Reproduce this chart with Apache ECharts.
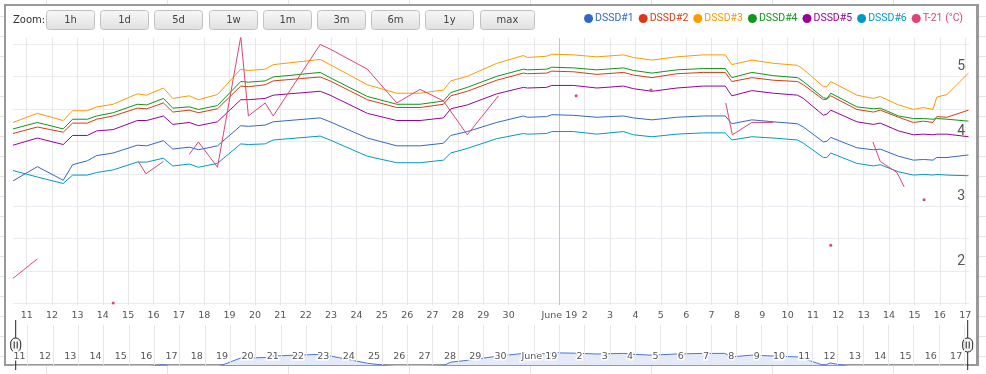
<!DOCTYPE html>
<html>
<head>
<meta charset="utf-8">
<script src="https://cdn.jsdelivr.net/npm/echarts@6/dist/echarts.min.js"></script>
<style>
html, body { margin: 0; padding: 0; }
body {
    width: 986px;
    height: 374px;
    overflow: hidden;
    position: relative;
    background-color: #fff;
    background-image: linear-gradient(to right, #e4e4e4 1px, transparent 1px), linear-gradient(to bottom, #e4e4e4 1px, transparent 1px);
    background-size: 121px 100%, 100% 20px;
    background-position: 46px 0, 0 16px;
}
#frame {
    position: absolute;
    left: 4px;
    top: 4px;
    width: 970px;
    height: 358px;
    border: 2px solid #999;
    border-right-width: 3px;
    background: #fff;
}
#chart { position: absolute; left: 0; top: 0; width: 986px; height: 374px; }
</style>
</head>
<body>
<div id="frame"></div>
<div id="chart"></div>
<script>
// x values are day numbers counted from 1 May 2019 (32 = 1 June)
const days = [10.46, 11.42, 12.44, 12.81, 13.39, 13.76, 14.41, 15.36, 15.73, 16.39,
    16.76, 17.41, 17.77, 18.52, 19.44, 19.74, 20.40, 20.72, 22.57, 22.96,
    24.43, 25.59, 26.51, 27.43, 27.72, 28.37, 29.53, 30.58, 30.74, 31.50,
    31.70, 32.55, 33.48, 34.53, 34.92, 35.65, 36.63, 37.68, 38.54, 38.80,
    39.59, 40.44, 41.39, 41.62, 42.41, 42.55, 42.70, 43.73, 44.38, 44.65,
    45.37, 45.96, 46.36, 46.73, 46.88, 47.28, 48.13];

const dssd1 = [3.39, 3.61, 3.40, 3.64, 3.70, 3.78, 3.82, 3.94, 3.93, 4.01,
    3.88, 3.91, 3.87, 3.93, 4.24, 4.23, 4.25, 4.30, 4.36, 4.30,
    4.05, 3.93, 3.93, 3.97, 4.09, 4.15, 4.29, 4.39, 4.37, 4.38,
    4.41, 4.40, 4.37, 4.39, 4.36, 4.33, 4.37, 4.39, 4.39, 4.27,
    4.33, 4.30, 4.27, 4.22, 3.99, 4.00, 4.06, 3.90, 3.87, 3.88,
    3.77, 3.71, 3.72, 3.71, 3.75, 3.75, 3.79];
const dssd2 = [4.12, 4.22, 4.14, 4.28, 4.28, 4.34, 4.39, 4.51, 4.50, 4.59,
    4.45, 4.48, 4.44, 4.50, 4.85, 4.84, 4.87, 4.93, 4.99, 4.93,
    4.64, 4.52, 4.52, 4.57, 4.70, 4.77, 4.94, 5.05, 5.04, 5.05,
    5.08, 5.07, 5.03, 5.06, 5.02, 4.98, 5.04, 5.06, 5.06, 4.92,
    4.98, 4.94, 4.92, 4.87, 4.64, 4.65, 4.70, 4.49, 4.45, 4.48,
    4.37, 4.29, 4.31, 4.29, 4.38, 4.37, 4.48];
const dssd3 = [4.29, 4.43, 4.32, 4.47, 4.47, 4.53, 4.57, 4.73, 4.71, 4.82,
    4.66, 4.70, 4.64, 4.72, 5.11, 5.09, 5.11, 5.18, 5.26, 5.18,
    4.87, 4.74, 4.74, 4.79, 4.93, 5.00, 5.20, 5.32, 5.29, 5.31,
    5.34, 5.33, 5.30, 5.33, 5.29, 5.25, 5.30, 5.33, 5.33, 5.18,
    5.25, 5.20, 5.17, 5.11, 4.84, 4.84, 4.92, 4.71, 4.66, 4.69,
    4.56, 4.49, 4.52, 4.49, 4.68, 4.72, 5.05];
const dssd4 = [4.19, 4.29, 4.19, 4.34, 4.34, 4.39, 4.44, 4.57, 4.56, 4.66,
    4.51, 4.53, 4.49, 4.55, 4.92, 4.91, 4.93, 4.99, 5.06, 4.98,
    4.69, 4.57, 4.57, 4.62, 4.75, 4.83, 5.00, 5.11, 5.10, 5.11,
    5.14, 5.13, 5.10, 5.13, 5.09, 5.05, 5.10, 5.12, 5.12, 4.98,
    5.06, 5.01, 4.98, 4.92, 4.67, 4.66, 4.74, 4.53, 4.50, 4.51,
    4.39, 4.35, 4.35, 4.34, 4.35, 4.34, 4.31];
const dssd5 = [3.94, 4.05, 3.95, 4.09, 4.09, 4.16, 4.18, 4.32, 4.32, 4.39,
    4.26, 4.29, 4.24, 4.30, 4.64, 4.64, 4.66, 4.71, 4.77, 4.71,
    4.43, 4.32, 4.32, 4.36, 4.50, 4.56, 4.73, 4.83, 4.82, 4.83,
    4.86, 4.86, 4.82, 4.85, 4.81, 4.77, 4.82, 4.85, 4.85, 4.70,
    4.78, 4.74, 4.71, 4.66, 4.40, 4.42, 4.48, 4.30, 4.26, 4.28,
    4.16, 4.10, 4.11, 4.10, 4.11, 4.11, 4.07];
const dssd6 = [3.55, 3.45, 3.35, 3.48, 3.48, 3.52, 3.56, 3.68, 3.68, 3.74,
    3.62, 3.65, 3.60, 3.66, 3.96, 3.95, 3.96, 4.02, 4.08, 4.02,
    3.77, 3.67, 3.67, 3.71, 3.82, 3.89, 4.04, 4.12, 4.11, 4.12,
    4.15, 4.15, 4.11, 4.15, 4.10, 4.07, 4.11, 4.13, 4.13, 4.02,
    4.07, 4.05, 4.02, 3.97, 3.75, 3.75, 3.82, 3.66, 3.62, 3.64,
    3.53, 3.48, 3.49, 3.48, 3.49, 3.48, 3.47];

// T-21 has gaps (null) and a few lone readings
const t21 = [[10.46, 1.89], [11.42, 2.19], [12.9, null], [14.41, 1.51], [15.0, null],
    [15.40, 3.69], [15.70, 3.50], [16.39, 3.69], [16.9, null],
    [17.41, 3.80], [17.77, 3.99], [18.52, 3.60], [19.44, 5.61], [19.74, 4.39],
    [20.40, 4.59], [20.72, 4.39], [22.57, 5.49], [22.96, 5.42], [24.43, 5.11],
    [25.59, 4.59], [26.51, 4.80], [27.43, 4.62], [28.37, 4.10], [29.60, 4.70],
    [31.0, null], [32.66, 4.70], [34.0, null], [35.61, 4.79], [37.0, null],
    [38.56, 4.59], [38.82, 4.10], [39.59, 4.29], [40.44, 4.29], [41.5, null],
    [42.70, 2.40], [43.5, null], [44.36, 3.99], [44.65, 3.69], [45.31, 3.52],
    [45.59, 3.30], [46.0, null], [46.38, 3.10], [47.0, null]];

const seriesNames = ['DSSD#1', 'DSSD#2', 'DSSD#3', 'DSSD#4', 'DSSD#5', 'DSSD#6', 'T-21 (°C)'];
const seriesColors = ['#3366cc', '#dc3912', '#ff9900', '#109618', '#990099', '#0099c6', '#dd4477'];

// one grid line per day, labels skip 31 May (hidden by the "June 19" label)
const dayTicks = [11, 12, 13, 14, 15, 16, 17, 18, 19, 20, 21, 22, 23, 24, 25, 26, 27, 28, 29, 30, 31,
    32, 33, 34, 35, 36, 37, 38, 39, 40, 41, 42, 43, 44, 45, 46, 47, 48];
const dayLabels = [11, 12, 13, 14, 15, 16, 17, 18, 19, 20, 21, 22, 23, 24, 25, 26, 27, 28, 29, 30,
    32, 33, 34, 35, 36, 37, 38, 39, 40, 41, 42, 43, 44, 45, 46, 47, 48];
const monthTicks = [32];
const valueLabels = [2, 3, 4, 5];
const valueGrid = [1.5, 2, 2.5, 3, 3.5, 4, 4.5, 5, 5.5];
const zoomButtons = ['1h', '1d', '5d', '1w', '1m', '3m', '6m', '1y', 'max'];

const xMin = 10.46, xMax = 48.15;

function dayLabel(d) {
    if (d === 32) return 'June 19';
    return String(d > 31 ? d - 31 : d);
}

let chart = echarts.init(document.getElementById('chart'));

const dssdValues = [dssd1, dssd2, dssd3, dssd4, dssd5, dssd6];
let series = dssdValues.map((vals, i) => ({
    name: seriesNames[i],
    type: 'line',
    xAxisIndex: 0,
    yAxisIndex: 0,
    data: days.map((d, k) => [d, vals[k]]),
    showSymbol: false,
    color: seriesColors[i],
    lineStyle: { width: 1 },
}));

// lone readings get a dot, everything else is a plain line
const lone = t21.map((p, i) => p[1] !== null
    && (i === 0 || t21[i - 1][1] === null)
    && (i === t21.length - 1 || t21[i + 1][1] === null));
series.push({
    name: seriesNames[6],
    type: 'line',
    xAxisIndex: 0,
    yAxisIndex: 0,
    data: t21.map(p => [p[0], p[1] === null ? '-' : p[1]]),
    color: seriesColors[6],
    lineStyle: { width: 1 },
    showSymbol: true,
    showAllSymbol: true,
    symbol: 'circle',
    symbolSize: (v, params) => lone[params.dataIndex] ? 3 : 0,
    itemStyle: { borderWidth: 0 },
});

// navigator series
series.push({
    name: 'navigator',
    type: 'line',
    xAxisIndex: 2,
    yAxisIndex: 1,
    data: days.map((d, k) => [d, dssd1[k]]),
    showSymbol: false,
    silent: true,
    lineStyle: { color: '#4d74d9', width: 1 },
    areaStyle: { color: '#e4eaf7', origin: 'start', opacity: 1 },
});

const labelFont = 'DejaVu Sans';
let buttons = zoomButtons.map((label, i) => {
    const w = label === 'max' ? 54 : 48;
    const x = Math.round(46 + i * 54.2) + 0.5;
    return {
        type: 'group',
        x: x,
        y: 10.5,
        children: [
            {
                type: 'rect',
                shape: { x: 0, y: 0, width: w, height: 19, r: 3 },
                style: {
                    fill: new echarts.graphic.LinearGradient(0, 0, 0, 1, [
                        { offset: 0, color: '#f8f8f8' },
                        { offset: 1, color: '#e0e0e0' },
                    ]),
                    stroke: '#c2c2c2',
                    lineWidth: 1,
                },
            },
            {
                type: 'text',
                style: {
                    text: label, x: w / 2, y: 10, align: 'center', verticalAlign: 'middle',
                    fill: '#444', fontSize: 10, fontFamily: labelFont,
                },
            },
        ],
    };
});
buttons.push({
    type: 'text',
    x: 13,
    y: 20,
    style: { text: 'Zoom:', verticalAlign: 'middle', fill: '#333', fontSize: 10, fontFamily: labelFont },
});

let option = {
    animation: false,
    legend: {
        top: 13,
        right: 23,
        padding: 0,
        icon: 'circle',
        itemWidth: 9,
        itemHeight: 9,
        itemGap: 5,
        textStyle: { fontSize: 10.5, fontFamily: 'Roboto', padding: [0, 0, 0, -3] },
        data: seriesNames.map((n, i) => ({ name: n, textStyle: { color: seriesColors[i] } })),
    },
    grid: [
        { left: 13, right: 17, top: 38, bottom: 69 },
        { left: 14, right: 18, top: 325, bottom: 9 },
    ],
    xAxis: [
        {
            type: 'value', gridIndex: 0, min: xMin, max: xMax,
            axisLine: { show: false },
            axisTick: { show: false, customValues: dayTicks },
            axisLabel: { customValues: dayLabels, formatter: dayLabel, color: '#555', fontSize: 9.5, fontFamily: labelFont, margin: 6 },
            splitLine: { show: true, lineStyle: { color: '#e6e6e6', width: 1 } },
        },
        {
            type: 'value', gridIndex: 0, min: xMin, max: xMax, position: 'bottom',
            axisLine: { show: false },
            axisTick: { show: false, customValues: monthTicks },
            axisLabel: { show: false },
            splitLine: { show: true, lineStyle: { color: '#c4c4c4', width: 1 } },
        },
        {
            type: 'value', gridIndex: 1, min: xMin, max: xMax, z: 5,
            axisLine: { show: false },
            axisTick: { show: false, customValues: dayTicks },
            axisLabel: {
                inside: true, customValues: dayLabels, formatter: dayLabel, color: '#555', fontSize: 9.5,
                fontFamily: labelFont, margin: 3, align: 'right', padding: [0, 2, 0, 0],
                textBorderColor: '#fff', textBorderWidth: 3,
            },
            splitLine: { show: true, lineStyle: { color: '#e6e6e6', width: 1 } },
        },
        {
            type: 'value', gridIndex: 1, min: xMin, max: xMax, position: 'bottom',
            axisLine: { show: false },
            axisTick: { show: false, customValues: monthTicks },
            axisLabel: { show: false },
            splitLine: { show: true, lineStyle: { color: '#c4c4c4', width: 1 } },
        },
    ],
    yAxis: [
        {
            type: 'value', gridIndex: 0, position: 'right', min: 1.48, max: 5.59,
            axisLine: { show: false },
            axisTick: { show: false, customValues: valueGrid },
            axisLabel: {
                inside: true, customValues: valueLabels, color: '#555', fontSize: 14, fontFamily: 'Roboto',
                margin: 4, verticalAlign: 'bottom', lineHeight: 14, padding: [0, 0, 3, 0],
            },
            splitLine: { show: true, lineStyle: { color: '#eaeaf0', width: 1 } },
        },
        {
            type: 'value', gridIndex: 1, min: 3.99, max: 5.37,
            axisLine: { show: false },
            axisTick: { show: false },
            axisLabel: { show: false },
            splitLine: { show: false },
        },
    ],
    dataZoom: [{
        type: 'slider',
        xAxisIndex: [0, 1],
        filterMode: 'none',
        start: 0,
        end: 100,
        left: 14,
        right: 18,
        top: 325,
        height: 40,
        showDetail: false,
        showDataShadow: false,
        brushSelect: false,
        backgroundColor: 'rgba(0,0,0,0)',
        fillerColor: 'rgba(0,0,0,0)',
        borderColor: 'rgba(0,0,0,0)',
        moveHandleSize: 0,
        handleIcon: 'path://M0,-25L0,-7M-5,-2A5,5,0,0,1,5,-2L5,2A5,5,0,0,1,-5,2ZM0,7L0,25M-1.5,-3.5L-1.5,3.5M1.5,-3.5L1.5,3.5',
        handleSize: '125%',
        handleStyle: { color: '#f4f4f4', borderColor: '#222', borderWidth: 1 },
    }],
    graphic: buttons,
    series: series,
};
chart.setOption(option);
</script>
</body>
</html>
